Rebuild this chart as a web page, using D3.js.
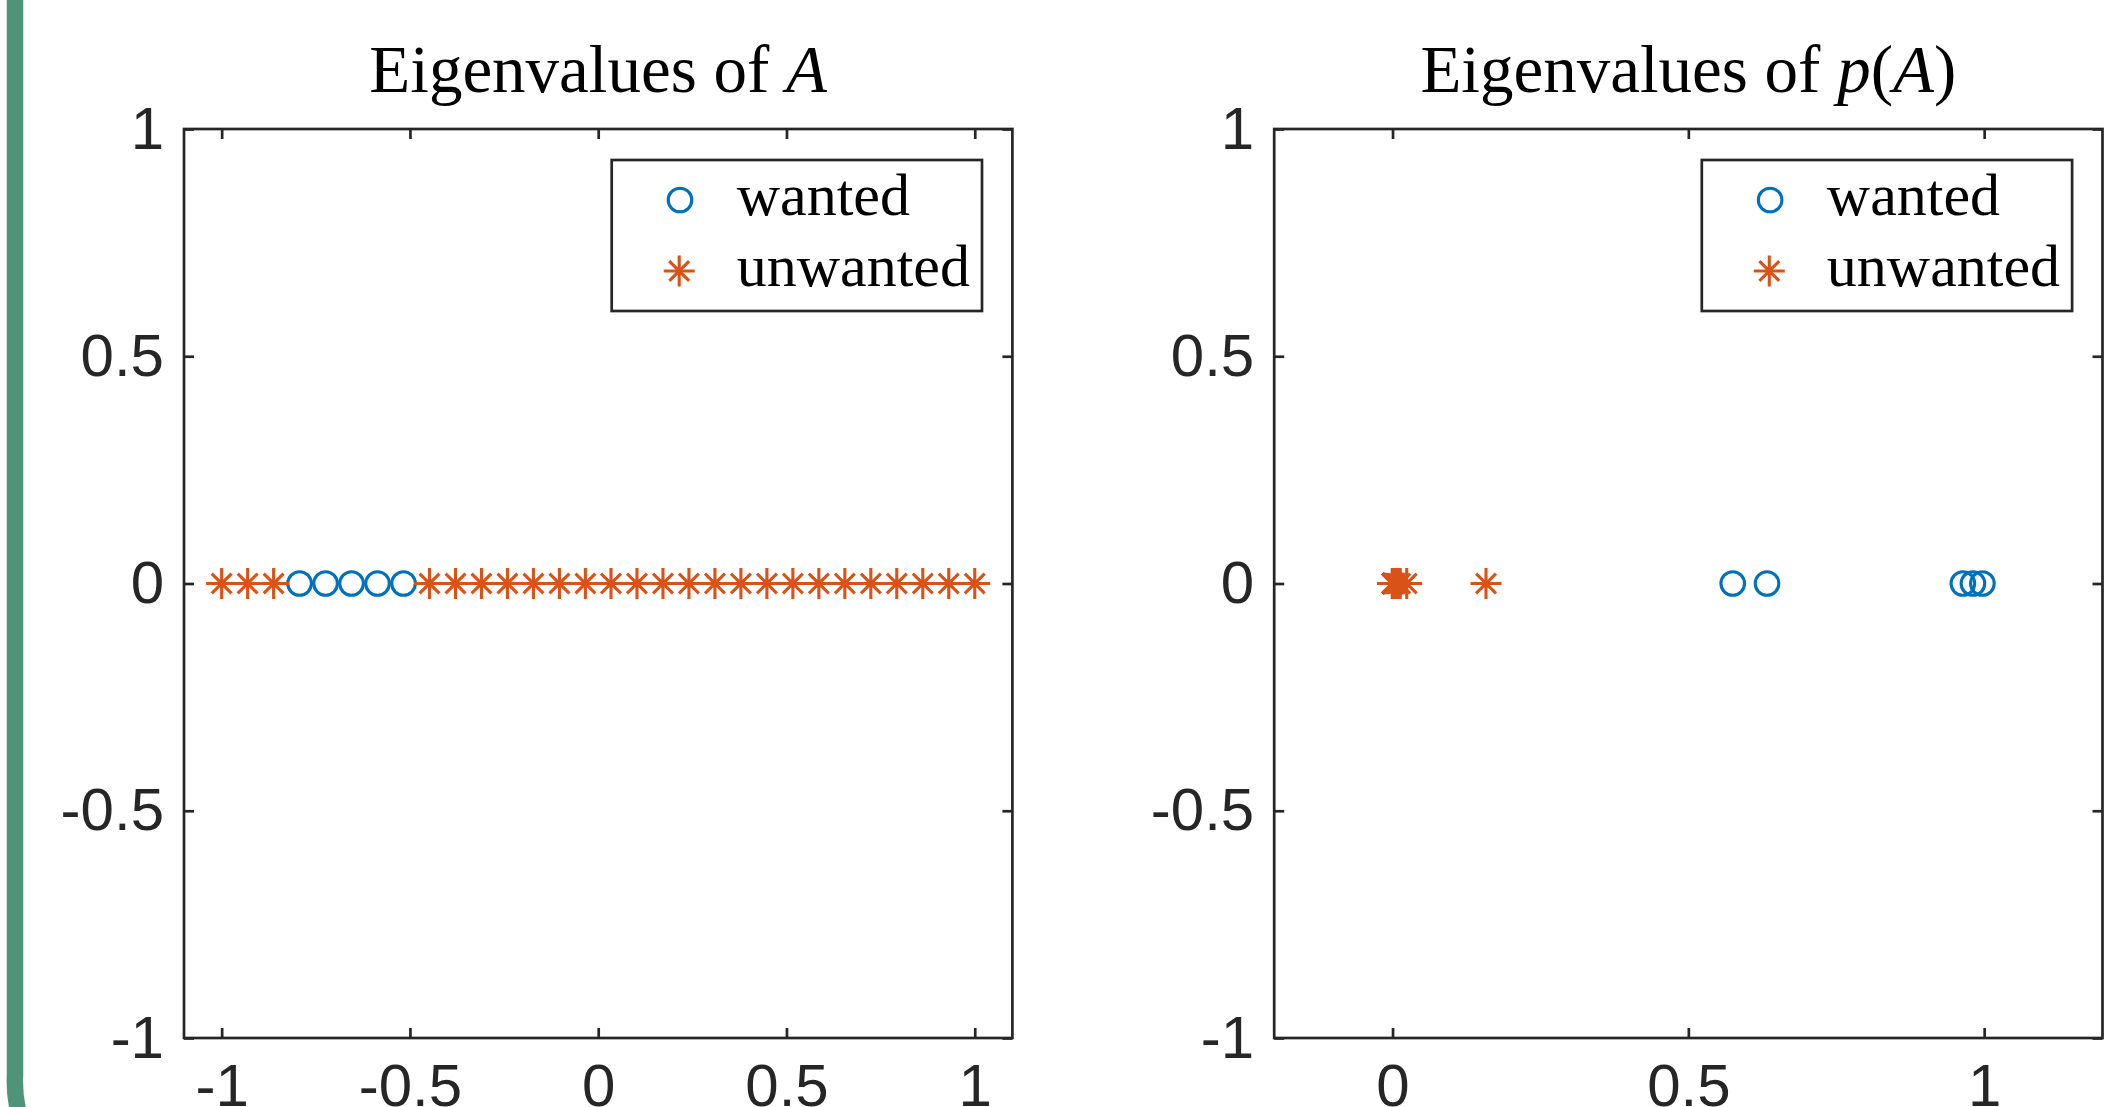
<!DOCTYPE html>
<html>
<head>
<meta charset="utf-8">
<script src="https://cdn.jsdelivr.net/npm/d3@7"></script>
<style>
  body { margin: 0; background: #fff; }
  svg { display: block; }
</style>
</head>
<body>
<div id="chart"></div>
<script>
// eigenvalues of A, split into wanted / unwanted
var eigA_wanted = [-0.793, -0.724, -0.655, -0.586, -0.517];
var eigA_unwanted = [-1, -0.931, -0.862, -0.448, -0.379, -0.310, -0.241, -0.172, -0.103, -0.034,
    0.034, 0.103, 0.172, 0.241, 0.310, 0.379, 0.448, 0.517, 0.586, 0.655, 0.724, 0.793, 0.862, 0.931, 1];

// eigenvalues of p(A)
var eigP_wanted = [0.575, 0.633, 0.964, 0.981, 0.997];
var eigP_unwanted = [0, 0, 0, 0, 0, 0, 0, 0, 0, 0, 0, 0, 0, 0, 0, 0,
    0.001, 0.002, 0.003, 0.004, 0.006, 0.009, 0.013, 0.024, 0.158];

var xTicksA = [-1, -0.5, 0, 0.5, 1];
var xTicksP = [0, 0.5, 1];
var yTicks = [-1, -0.5, 0, 0.5, 1];
var legendLabels = ["wanted", "unwanted"];

var W = 2124, H = 1107;
var blue = "#0072BD", orange = "#D95319", axisColor = "#262626";
var markerWidth = 3.1;

var svg = d3.select("#chart").append("svg")
    .attr("width", W)
    .attr("height", H);

// green slide frame on the left
svg.append("path")
    .attr("d", "M15,-10 L15,1075 A130,130 0 0 0 60,1180")
    .attr("fill", "none")
    .attr("stroke", "#4E947A")
    .attr("stroke-width", 16.5);

var y = d3.scaleLinear().domain([-1, 1]).range([1038, 129]);

function asterisk(r) {
    var d = r * 0.64;
    return "M" + (-r) + ",0H" + r + "M0," + (-r) + "V" + r +
        "M" + (-d) + "," + (-d) + "L" + d + "," + d +
        "M" + (-d) + "," + d + "L" + d + "," + (-d);
}

function drawPanel(opts) {
    var x = d3.scaleLinear().domain(opts.domain).range(opts.range);
    var g = svg.append("g");
    var x0 = opts.range[0], x1 = opts.range[1];

    // axes (ticks inward, MATLAB style box)
    var fmt = function(d) { return String(d); };
    var bottom = g.append("g").attr("transform", "translate(0," + y.range()[0] + ")")
        .call(d3.axisBottom(x).tickValues(opts.xticks).tickFormat(fmt).tickSize(-10).tickSizeOuter(0).tickPadding(25));
    var top = g.append("g").attr("transform", "translate(0," + y.range()[1] + ")")
        .call(d3.axisTop(x).tickValues(opts.xticks).tickFormat("").tickSize(-10).tickSizeOuter(0));
    var left = g.append("g").attr("transform", "translate(" + x0 + ",0)")
        .call(d3.axisLeft(y).tickValues(yTicks).tickFormat(fmt).tickSize(-10).tickSizeOuter(0).tickPadding(20));
    var right = g.append("g").attr("transform", "translate(" + x1 + ",0)")
        .call(d3.axisRight(y).tickValues(yTicks).tickFormat("").tickSize(-10).tickSizeOuter(0));

    [bottom, top, left, right].forEach(function(a) {
        a.select(".domain").remove();
        a.selectAll(".tick line").attr("stroke", axisColor).attr("stroke-width", 2.7);
        a.selectAll(".tick text")
            .attr("fill", axisColor)
            .style("font-family", "'Liberation Sans', Arial, Helvetica, sans-serif")
            .style("font-size", "60px");
    });

    g.append("rect")
        .attr("x", x0).attr("y", y.range()[1])
        .attr("width", x1 - x0).attr("height", y.range()[0] - y.range()[1])
        .attr("fill", "none")
        .attr("stroke", axisColor)
        .attr("stroke-width", 2.7);

    // title
    var title = g.append("text")
        .attr("x", (x0 + x1) / 2)
        .attr("y", 91.5)
        .attr("text-anchor", "middle")
        .style("font-family", "'Liberation Serif', 'Times New Roman', serif")
        .style("font-size", "67px")
        .attr("fill", "#000");
    opts.title.forEach(function(p) {
        title.append("tspan")
            .style("font-style", p.italic ? "italic" : "normal")
            .text(p.t);
    });

    // data
    g.selectAll(".wanted")
        .data(opts.wanted)
        .enter().append("circle")
        .attr("class", "wanted")
        .attr("cx", function(d) { return x(d); })
        .attr("cy", y(0))
        .attr("r", 11.8)
        .attr("fill", "none")
        .attr("stroke", blue)
        .attr("stroke-width", markerWidth);

    g.selectAll(".unwanted")
        .data(opts.unwanted)
        .enter().append("path")
        .attr("class", "unwanted")
        .attr("transform", function(d) { return "translate(" + x(d) + "," + y(0) + ")"; })
        .attr("d", asterisk(15.5))
        .attr("fill", "none")
        .attr("stroke", orange)
        .attr("stroke-width", markerWidth);

    // legend
    var lx = x1 - 30.4 - 370.3, ly = 160;
    var leg = g.append("g").attr("transform", "translate(" + lx + "," + ly + ")");
    leg.append("rect")
        .attr("width", 370.3).attr("height", 151)
        .attr("fill", "#fff")
        .attr("stroke", axisColor)
        .attr("stroke-width", 2.7);

    var rows = leg.selectAll(".row")
        .data(legendLabels)
        .enter().append("g")
        .attr("class", "row")
        .attr("transform", function(d, i) { return "translate(0," + (40 + i * 71) + ")"; });

    rows.each(function(d, i) {
        var r = d3.select(this);
        if (i === 0) {
            r.append("circle").attr("cx", 68.3).attr("cy", 0).attr("r", 11.8)
                .attr("fill", "none").attr("stroke", blue).attr("stroke-width", markerWidth);
        } else {
            r.append("path").attr("transform", "translate(67.5,0)").attr("d", asterisk(15.5))
                .attr("fill", "none").attr("stroke", orange).attr("stroke-width", markerWidth);
        }
        r.append("text")
            .attr("x", 125)
            .attr("y", 14.5)
            .style("font-family", "'Liberation Serif', 'Times New Roman', serif")
            .style("font-size", "60px")
            .attr("fill", "#000")
            .text(d);
    });
}

drawPanel({
    domain: [-1.1, 1.1],
    range: [184, 1012.4],
    xticks: xTicksA,
    wanted: eigA_wanted,
    unwanted: eigA_unwanted,
    title: [{t: "Eigenvalues of "}, {t: "A", italic: true}]
});

drawPanel({
    domain: [-0.2, 1.2],
    range: [1274.2, 2102.5],
    xticks: xTicksP,
    wanted: eigP_wanted,
    unwanted: eigP_unwanted,
    title: [{t: "Eigenvalues of "}, {t: "p", italic: true}, {t: "("}, {t: "A", italic: true}, {t: ")"}]
});
</script>
</body>
</html>
